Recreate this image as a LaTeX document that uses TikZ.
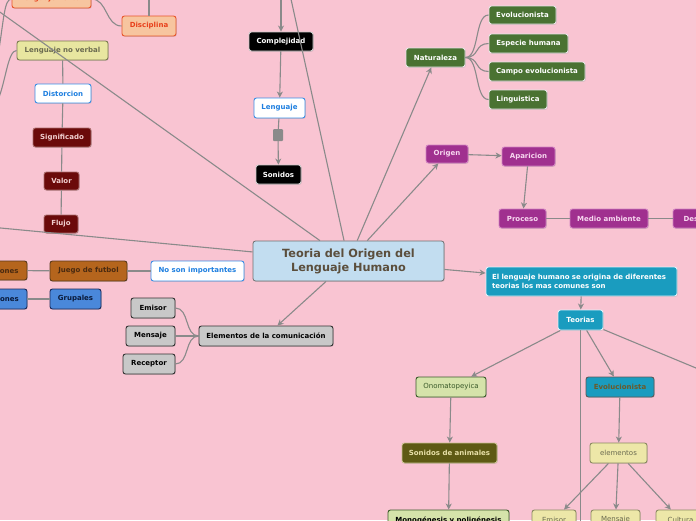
\documentclass[tikz,border=0pt]{standalone}
\usepackage{fontspec}
\setmainfont{DejaVu Sans}
\usetikzlibrary{arrows.meta,shadows}
\definecolor{bgpink}{HTML}{F9C4D2}
\definecolor{lngray}{HTML}{8A8A8A}
\definecolor{orfill}{HTML}{F7C59F}\definecolor{ordraw}{HTML}{E8552A}\definecolor{ortext}{HTML}{E8401C}
\definecolor{khfill}{HTML}{E8E6A0}\definecolor{khdraw}{HTML}{7A7A50}\definecolor{khtext}{HTML}{6B6B50}
\definecolor{wbdraw}{HTML}{3A8EE6}\definecolor{wbtext}{HTML}{1E7FE0}
\definecolor{drfill}{HTML}{6B0A0A}\definecolor{drdraw}{HTML}{A86A6A}\definecolor{drtext}{HTML}{F2D0D0}
\definecolor{grfill}{HTML}{4A7232}
\definecolor{pufill}{HTML}{A0308F}\definecolor{pudraw}{HTML}{D080C0}\definecolor{putext}{HTML}{F8D8F0}
\definecolor{tifill}{HTML}{C2DDF0}\definecolor{tidraw}{HTML}{6F6F6F}\definecolor{titext}{HTML}{5B4E3C}
\definecolor{brfill}{HTML}{B5651D}\definecolor{brdraw}{HTML}{5A3A1A}\definecolor{brtext}{HTML}{4A2A10}
\definecolor{blfill}{HTML}{4A88DA}\definecolor{bldraw}{HTML}{1A2A5A}\definecolor{bltext}{HTML}{0A1A3A}
\definecolor{gyfill}{HTML}{C8C8C8}\definecolor{gydraw}{HTML}{333333}
\definecolor{tefill}{HTML}{1A9CBF}\definecolor{tedraw}{HTML}{E0F0F8}\definecolor{tetext}{HTML}{6B5A2A}
\definecolor{lgfill}{HTML}{D5E3AA}\definecolor{lgdraw}{HTML}{3A5A2A}
\definecolor{olfill}{HTML}{5E5A14}\definecolor{oldraw}{HTML}{C8C090}\definecolor{oltext}{HTML}{E8E0A8}
\definecolor{k2fill}{HTML}{EDE7A8}\definecolor{k2draw}{HTML}{8A8A60}\definecolor{k2text}{HTML}{6A6A50}
\tikzset{
  box/.style={rounded corners=2.5pt, line width=0.9pt, inner sep=0pt,
    font=\fontsize{7}{8.5}\selectfont\bfseries,
    drop shadow={opacity=0.25, shadow xshift=0.8pt, shadow yshift=-0.8pt}},
  orangebox/.style={fill=orfill, draw=ordraw, text=ortext},
  khakibox/.style={fill=khfill, draw=khdraw, text=khtext},
  whitebox/.style={fill=white, draw=wbdraw, text=wbtext},
  redbox/.style={fill=drfill, draw=drdraw, text=drtext},
  blackbox/.style={fill=black, draw=gray!40, text=white},
  greenbox/.style={fill=grfill, draw=gray!20, text=white},
  purplebox/.style={fill=pufill, draw=pudraw, text=putext},
  titlebox/.style={fill=tifill, draw=tidraw, text=titext, line width=0.8pt,
    font=\fontsize{11.3}{14}\selectfont\bfseries, align=center},
  brownbox/.style={fill=brfill, draw=brdraw, text=brtext},
  bluebox/.style={fill=blfill, draw=bldraw, text=bltext},
  graybox/.style={fill=gyfill, draw=gydraw, text=black},
  tealbox/.style={fill=tefill, draw=tedraw, text=white},
  tealevobox/.style={fill=tefill, draw=gray!70!black, text=tetext},
  lgbox/.style={fill=lgfill, draw=lgdraw, text=lgdraw},
  olivebox/.style={fill=olfill, draw=oldraw, text=oltext},
  k2box/.style={fill=k2fill, draw=k2draw, text=k2text},
  regular/.style={font=\fontsize{7}{8.5}\selectfont},
  ln/.style={draw=lngray, line width=1.1pt},
  arr/.style={ln, -{Stealth[length=6pt,width=6pt,inset=1.8pt]}},
}
\newcommand\bx[7]{%
  \pgfmathsetmacro\bxcx{(#3+#5)/2}\pgfmathsetmacro\bxcy{(#4+#6)/2}%
  \pgfmathsetmacro\bxww{#5-#3}\pgfmathsetmacro\bxhh{#6-#4}%
  \node[box,#2,minimum width=\bxww pt,minimum height=\bxhh pt] (#1) at (\bxcx,\bxcy) {#7};}
\begin{document}
\begin{tikzpicture}[x=1pt,y=-1pt]
\useasboundingbox (0,0) rectangle (696,520);
\fill[bgpink] (0,0) rectangle (696,520);
\begin{scope}
\clip (0,0) rectangle (696,520);
% coordinates for free ends
\coordinate (discup) at (149,-20);
\coordinate (lpa) at (-2,55);
\coordinate (lpb) at (-2,100);
\coordinate (tl1) at (-10,5);
\coordinate (tl2) at (-10,227);
\coordinate (tup) at (289,-10);
\coordinate (cup) at (281,-10);
\coordinate (teoR) at (720,378);
\coordinate (teoD) at (580.5,540);
% nodes
\bx{lverbal}{orangebox}{12}{-10}{91}{8}{Lenguaje verbal}
\bx{disc}{orangebox}{122}{16}{176}{36}{Disciplina}
\bx{lnoverbal}{khakibox}{17}{41}{108}{60}{Lenguaje no verbal}
\bx{dist}{whitebox}{35}{84}{91}{103}{Distorcion}
\bx{sig}{redbox}{33}{128}{91}{147}{Significado}
\bx{valor}{redbox}{44}{172}{79}{190}{Valor}
\bx{flujo}{redbox}{44}{215}{78}{233}{Flujo}
\bx{comp}{blackbox}{249}{32}{313}{51}{Complejidad}
\bx{leng}{whitebox}{254}{98}{305}{118}{Lenguaje}
\node[fill=lngray, rounded corners=1pt, minimum width=10pt, minimum height=12pt, inner sep=0pt] (sq) at (278,135) {};
\bx{son}{blackbox}{256}{165}{301}{184}{Sonidos}
\bx{nat}{greenbox}{406}{48}{465}{67}{Naturaleza}
\bx{evoa}{greenbox}{489}{6}{556}{24}{Evolucionista}
\bx{esp}{greenbox}{489}{34}{568}{53}{Especie humana}
\bx{campo}{greenbox}{489}{62}{585}{81}{Campo evolucionista}
\bx{ling}{greenbox}{489}{90}{547}{109}{Linguistica}
\bx{orig}{purplebox}{426}{145}{468}{163}{Origen}
\bx{apar}{purplebox}{502}{147}{555}{166}{Aparicion}
\bx{proc}{purplebox}{499}{209}{546}{228}{Proceso}
\bx{medio}{purplebox}{570}{209}{648}{228}{Medio ambiente}
\bx{des}{purplebox}{673}{209}{735}{228}{Desarrollo}
\bx{title}{titlebox}{253}{241}{444}{281}{Teoria del Origen del\\Lenguaje Humano}
\bx{emo}{brownbox}{-32}{261}{27}{280}{Emociones}
\bx{juego}{brownbox}{50}{261}{127}{281}{Juego de futbol}
\bx{nosi}{whitebox}{151}{261}{244}{281}{No son importantes}
\bx{rel}{bluebox}{-32}{289}{27}{309}{Relaciones}
\bx{grup}{bluebox}{50}{289}{101}{309}{Grupales}
\bx{emia}{graybox}{131}{298}{175}{318}{Emisor}
\bx{mena}{graybox}{126}{326}{175}{346}{Mensaje}
\bx{rec}{graybox}{123}{354}{175}{374}{Receptor}
\bx{elem}{graybox}{199}{326}{333}{346}{Elementos de la comunicación}
\bx{ellen}{tealbox,text width=179pt,align=left,inner xsep=6pt,font=\fontsize{7}{9.5}\selectfont\bfseries}{486}{267}{677}{296}{El lenguaje humano se origina de diferentes teorias los mas comunes son}
\bx{teo}{tealbox}{558}{310}{603}{330}{Teorias}
\bx{ono}{lgbox,regular}{416}{377}{486}{397}{Onomatopeyica}
\bx{evob}{tealevobox}{586}{377}{654}{397}{Evolucionista}
\bx{sonan}{olivebox}{402}{443}{497}{463}{Sonidos de animales}
\bx{elems}{k2box,regular}{590}{443}{647}{463}{elementos}
\bx{mono}{lgbox,text=black}{388}{510}{509}{530}{Monogénesis y poligénesis}
\bx{emib}{k2box,regular}{532}{510}{576}{530}{Emisor}
\bx{menb}{k2box,regular}{591}{510}{640}{530}{Mensaje}
\bx{cult}{k2box,regular}{656}{510}{705}{530}{Cultura}
% connectors
\draw[ln] (lverbal.east) .. controls +(16,0) and +(-16,0) .. (disc.west);
\draw[ln] (disc) -- (discup);
\draw[ln] (lverbal.west) .. controls (4,-1) and (4,20) .. (lpa);
\draw[ln] (lnoverbal.west) .. controls (8,50.5) and (6,80) .. (lpb);
\draw[ln] (lnoverbal) -- (dist);
\draw[ln] (dist) -- (sig);
\draw[ln] (sig) -- (valor);
\draw[ln] (valor) -- (flujo);
\draw[arr] (cup) -- (comp);
\draw[arr] (comp) -- (leng);
\draw[ln] (leng) -- (sq);
\draw[arr] (sq) -- (son);
\draw[ln] (title) -- (tl1);
\draw[ln] (title) -- (tl2);
\draw[ln] (title) -- (tup);
\draw[arr] (title) -- (nat);
\draw[arr] (title) -- (orig);
\draw[arr] (title) -- (elem);
\draw[arr] (title) -- (ellen);
\foreach \c in {evoa,esp,campo,ling}
  \draw[ln] (nat.east) .. controls +(14,0) and +(-14,0) .. (\c.west);
\draw[arr] (orig) -- (apar);
\draw[arr] (apar) -- (proc);
\draw[ln] (proc) -- (medio);
\draw[ln] (medio) -- (des);
\draw[ln] (emo) -- (juego);
\draw[ln] (juego) -- (nosi);
\draw[ln] (rel) -- (grup);
\foreach \c in {emia,mena,rec}
  \draw[ln] (elem.west) .. controls +(-14,0) and +(14,0) .. (\c.east);
\draw[arr] (ellen) -- (teo);
\draw[arr] (teo) -- (ono);
\draw[arr] (teo) -- (evob);
\draw[ln] (teo) -- (teoR);
\draw[ln] (teo) -- (teoD);
\draw[arr] (ono) -- (sonan);
\draw[arr] (sonan) -- (mono);
\draw[arr] (evob) -- (elems);
\draw[arr] (elems) -- (emib);
\draw[arr] (elems) -- (menb);
\draw[arr] (elems) -- (cult);
\end{scope}
\end{tikzpicture}
\end{document}
